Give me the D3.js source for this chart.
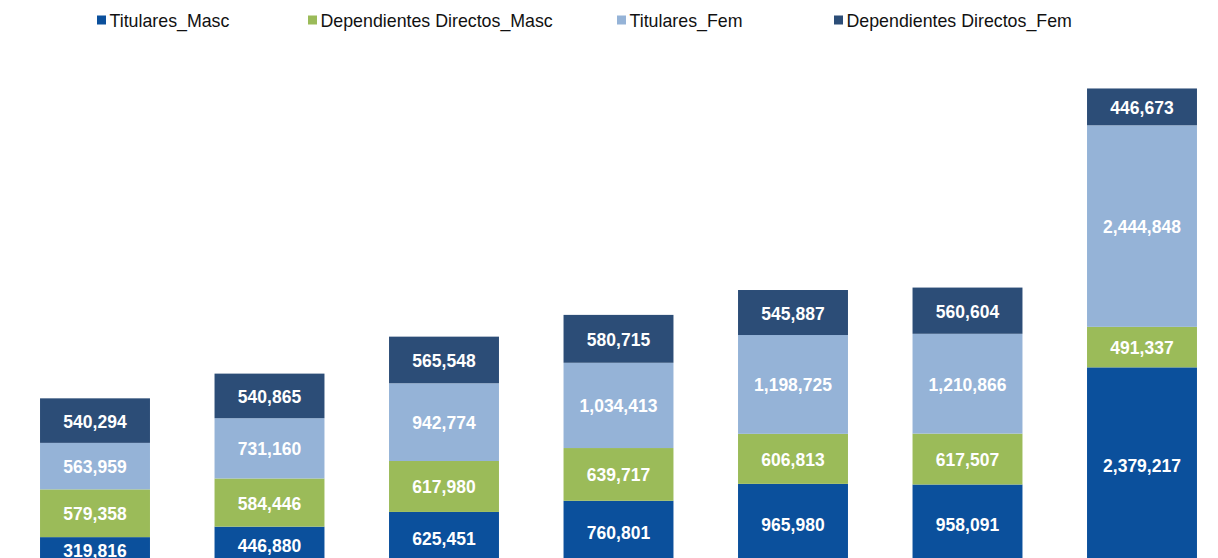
<!DOCTYPE html>
<html>
<head>
<meta charset="utf-8">
<script src="https://cdn.jsdelivr.net/npm/d3@7"></script>
<style>
  html, body { margin: 0; padding: 0; background: #fff; }
  svg { display: block; }
</style>
</head>
<body>
<svg id="chart" width="1218" height="558"></svg>
<script>
// Data
const categories = ["1", "2", "3", "4", "5", "6", "7"];
const seriesNames = ["Titulares_Masc", "Dependientes Directos_Masc", "Titulares_Fem", "Dependientes Directos_Fem"];
const titularesMasc = [319816, 446880, 625451, 760801, 965980, 958091, 2379217];
const dependientesMasc = [579358, 584446, 617980, 639717, 606813, 617507, 491337];
const titularesFem = [563959, 731160, 942774, 1034413, 1198725, 1210866, 2444848];
const dependientesFem = [540294, 540865, 565548, 580715, 545887, 560604, 446673];
const colors = ["#0b509c", "#9bbb59", "#95b3d7", "#2c4d77"];

const rows = categories.map((c, i) => ({
  cat: c,
  [seriesNames[0]]: titularesMasc[i],
  [seriesNames[1]]: dependientesMasc[i],
  [seriesNames[2]]: titularesFem[i],
  [seriesNames[3]]: dependientesFem[i]
}));

const svg = d3.select("#chart");
const baseline = 563.5;
const pxPerUnit = 0.00008244;
const yMax = 6000000;

const x = d3.scaleBand().domain(categories).range([7.75, 1229.25]).paddingInner(0.37).paddingOuter(0.185);
const y = d3.scaleLinear().domain([0, yMax]).range([baseline, baseline - yMax * pxPerUnit]);
const color = d3.scaleOrdinal().domain(seriesNames).range(colors);

const stack = d3.stack().keys(seriesNames)(rows);
const fmt = d3.format(",");

const groups = svg.append("g").selectAll("g").data(stack).join("g")
  .attr("fill", d => color(d.key));

groups.selectAll("rect").data(d => d).join("rect")
  .attr("x", d => x(d.data.cat))
  .attr("width", x.bandwidth())
  .attr("y", d => y(d[1]))
  .attr("height", d => y(d[0]) - y(d[1]));

const labels = svg.append("g").selectAll("g").data(stack).join("g");
labels.selectAll("text").data(d => d).join("text")
  .attr("x", d => x(d.data.cat) + x.bandwidth() / 2)
  .attr("y", d => (y(d[0]) + y(d[1])) / 2 + 1)
  .attr("text-anchor", "middle")
  .attr("dominant-baseline", "central")
  .attr("fill", "#fff")
  .attr("font-family", "Liberation Sans, Arial, sans-serif")
  .attr("font-weight", "bold")
  .attr("font-size", "17.5px")
  .text(d => fmt(d[1] - d[0]));

// Legend
const legendX = [97, 308, 617, 834];
const legend = svg.append("g").selectAll("g").data(seriesNames).join("g")
  .attr("transform", (d, i) => `translate(${legendX[i]},20)`);
legend.append("rect").attr("x", 0).attr("y", -4.5).attr("width", 9).attr("height", 9)
  .attr("fill", d => color(d));
legend.append("text").attr("x", 12.5).attr("y", 0.5)
  .attr("dominant-baseline", "central")
  .attr("font-family", "Liberation Sans, Arial, sans-serif")
  .attr("font-size", "17.8px")
  .attr("fill", "#111")
  .text(d => d);
</script>
</body>
</html>
